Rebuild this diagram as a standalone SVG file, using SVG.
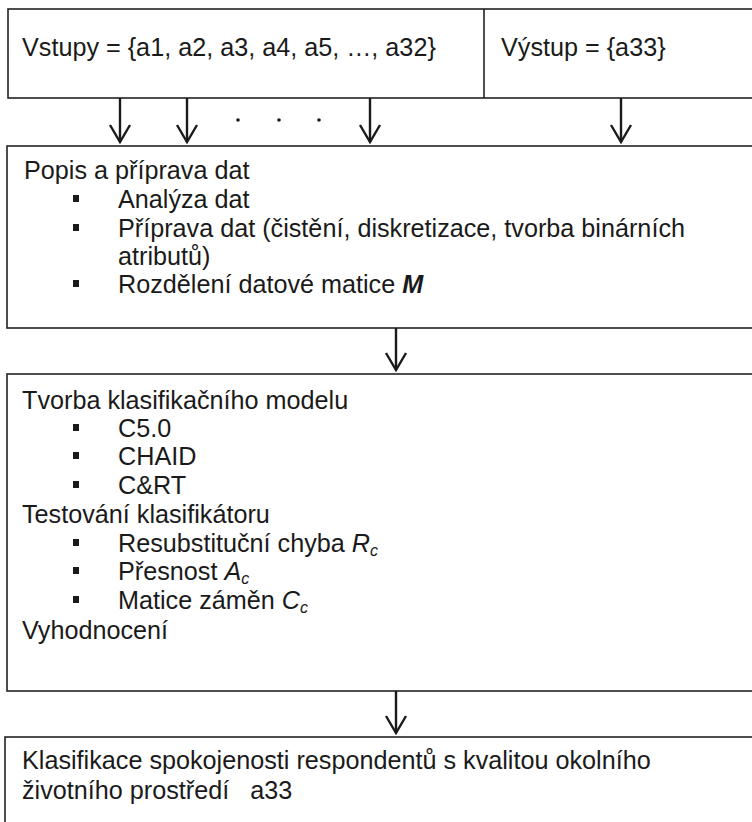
<svg xmlns="http://www.w3.org/2000/svg" width="752" height="822" viewBox="0 0 752 822">
<style>
.box{fill:#fff;stroke:#222;stroke-width:1.6}
.t{font-family:"Liberation Sans",Arial,sans-serif;font-size:25.2px;fill:#1a1a1a}
.it{font-style:italic}
.sub{font-style:italic;font-size:16px}
.conn{stroke:#1a1a1a;stroke-width:2.4;fill:none}
.bul{fill:#1a1a1a}
</style>
<defs>
<marker id="ah" viewBox="-20 -12 22 24" refX="0" refY="0" markerWidth="22" markerHeight="24" markerUnits="userSpaceOnUse" orient="auto">
<path d="M-17,-10 L0,0 L-17,10" fill="none" stroke="#1a1a1a" stroke-width="2.4"/>
</marker>
<rect id="b" width="6" height="7" class="bul"/>
</defs>
<rect width="752" height="822" fill="#fff"/>
<g id="inputs">
<rect class="box" x="8" y="9" width="800" height="89"/>
<text class="t" x="22" y="56">Vstupy = {a1, a2, a3, a4, a5, …, a32}</text>
</g>
<g id="output">
<line x1="484" y1="9" x2="484" y2="98" stroke="#222" stroke-width="1.6"/>
<text class="t" x="501" y="56">Výstup = {a33}</text>
</g>
<g id="preparation">
<rect class="box" x="7" y="146" width="800" height="182"/>
<text class="t" x="24" y="179">Popis a příprava dat</text>
<use href="#b" x="73" y="195"/>
<text class="t" x="118" y="208">Analýza dat</text>
<use href="#b" x="73" y="224"/>
<text class="t" x="118" y="237">Příprava dat (čistění, diskretizace, tvorba binárních</text>
<text class="t" x="118" y="265">atributů)</text>
<use href="#b" x="73" y="280"/>
<text class="t" x="118" y="293">Rozdělení datové matice <tspan font-weight="bold" class="it">M</tspan></text>
</g>
<g id="model">
<rect class="box" x="7" y="374" width="800" height="317"/>
<text class="t" x="22" y="409">Tvorba klasifikačního modelu</text>
<use href="#b" x="73" y="424"/>
<text class="t" x="118" y="437">C5.0</text>
<use href="#b" x="73" y="452"/>
<text class="t" x="118" y="465">CHAID</text>
<use href="#b" x="73" y="481"/>
<text class="t" x="118" y="494">C&amp;RT</text>
<text class="t" x="22" y="523">Testování klasifikátoru</text>
<use href="#b" x="73" y="539"/>
<text class="t" x="118" y="552">Resubstituční chyba <tspan class="it">R</tspan><tspan class="sub" dy="4">c</tspan></text>
<use href="#b" x="73" y="567"/>
<text class="t" x="118" y="580">Přesnost <tspan class="it">A</tspan><tspan class="sub" dy="4">c</tspan></text>
<use href="#b" x="73" y="596"/>
<text class="t" x="118" y="609">Matice záměn <tspan class="it">C</tspan><tspan class="sub" dy="4">c</tspan></text>
<text class="t" x="22" y="639">Vyhodnocení</text>
</g>
<g id="result">
<rect class="box" x="5" y="737" width="800" height="200"/>
<text class="t" x="22" y="769">Klasifikace spokojenosti respondentů s kvalitou okolního</text>
<text class="t" x="22" y="799" xml:space="preserve">životního prostředí   a33</text>
</g>
<g id="connectors">
<line class="conn" x1="120" y1="98" x2="120" y2="142" marker-end="url(#ah)"/>
<line class="conn" x1="187" y1="98" x2="187" y2="142" marker-end="url(#ah)"/>
<line class="conn" x1="370" y1="98" x2="370" y2="142" marker-end="url(#ah)"/>
<line class="conn" x1="621" y1="98" x2="621" y2="142" marker-end="url(#ah)"/>
<circle cx="238" cy="120" r="1.8" fill="#1a1a1a"/>
<circle cx="279" cy="120" r="1.8" fill="#1a1a1a"/>
<circle cx="319" cy="120" r="1.8" fill="#1a1a1a"/>
<line class="conn" x1="396" y1="328" x2="396" y2="370" marker-end="url(#ah)"/>
<line class="conn" x1="396" y1="691" x2="396" y2="733" marker-end="url(#ah)"/>
</g>
</svg>
